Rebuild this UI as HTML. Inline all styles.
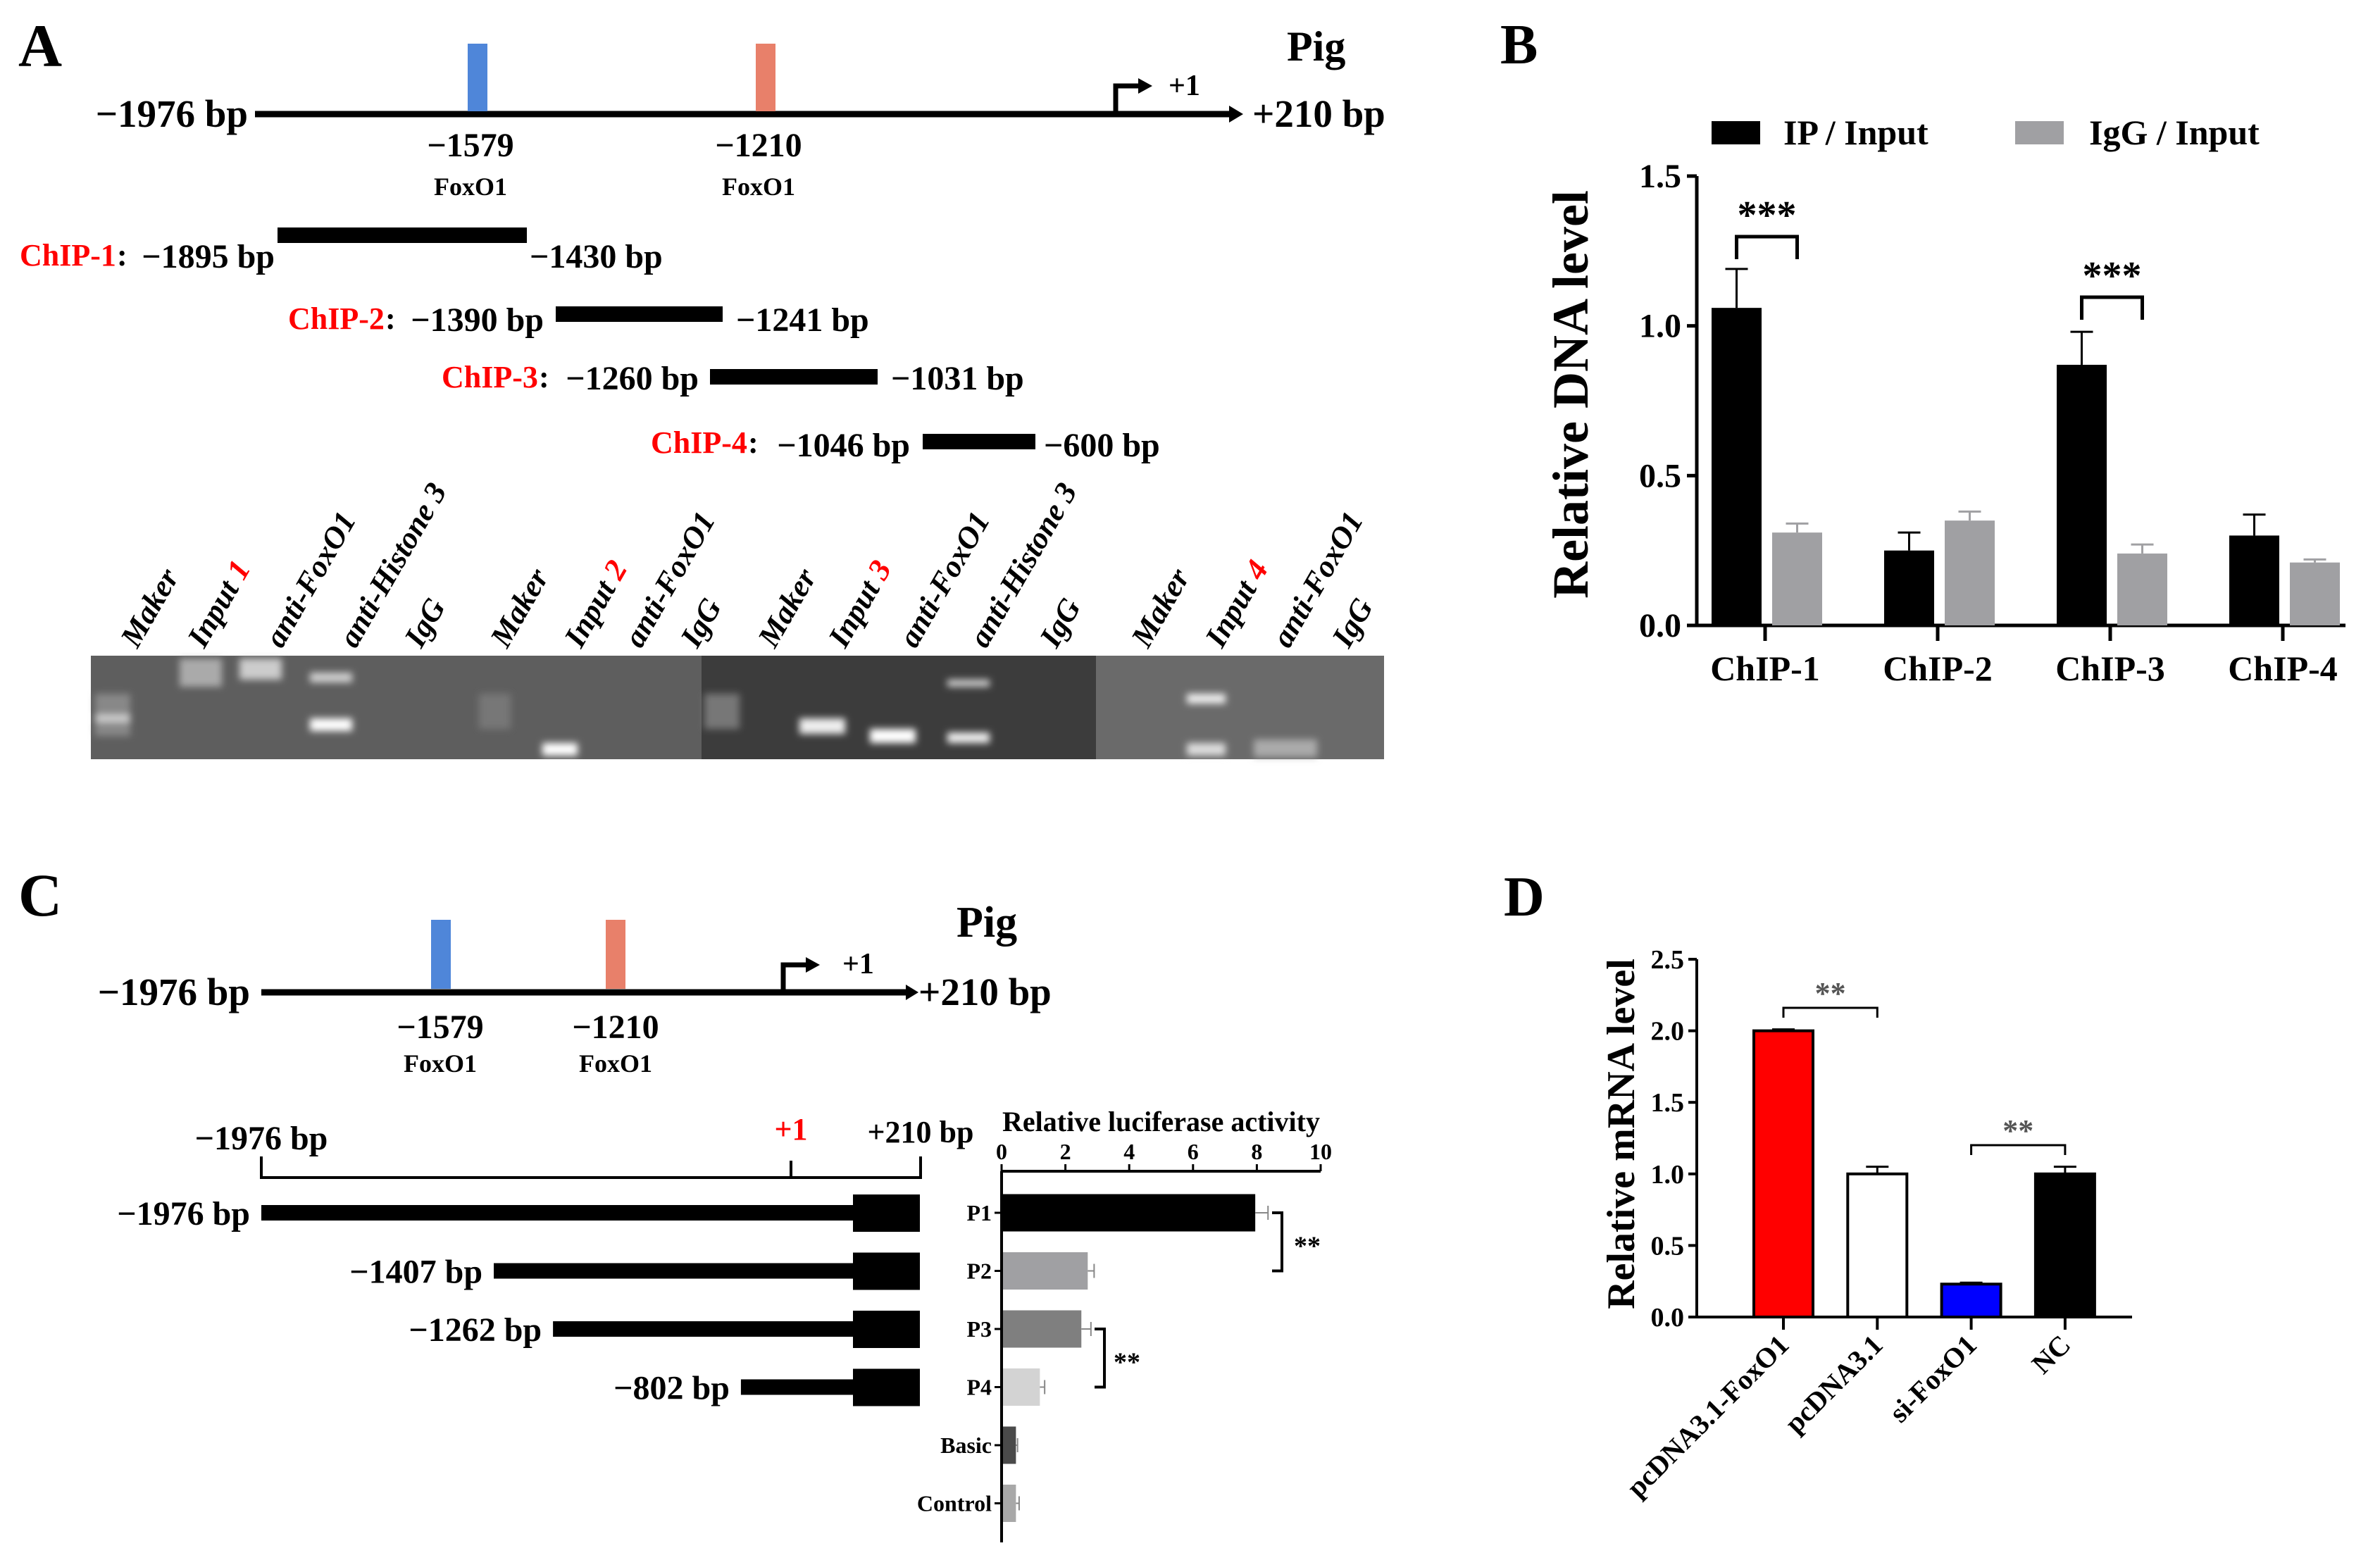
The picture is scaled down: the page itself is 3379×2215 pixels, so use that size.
<!DOCTYPE html>
<html><head><meta charset="utf-8"><style>
html,body{margin:0;padding:0;background:#fff}
svg{display:block}
text{font-family:"Liberation Serif",serif;font-weight:bold;fill:#000}
</style></head><body>
<svg id="fig" width="3379" height="2215" viewBox="0 0 3379 2215" xmlns="http://www.w3.org/2000/svg">
<defs>
<filter id="blur" x="-50%" y="-50%" width="200%" height="200%"><feGaussianBlur stdDeviation="5"/></filter>
</defs>

<!-- Panel A -->
<g>
<text x="26" y="94" font-size="86">A</text>
<text x="1827" y="86" font-size="60">Pig</text>
<line x1="362" y1="162" x2="1750" y2="162" stroke="#000" stroke-width="9"/>
<path d="M1745,150 L1765,162 L1745,174 z" fill="#000"/>
<text x="352" y="180" font-size="55" text-anchor="end">−1976 bp</text>
<text x="1778" y="180" font-size="55">+210 bp</text>
<rect x="664" y="62" width="28" height="96" fill="#4f86d9"/>
<rect x="1073" y="62" width="28" height="96" fill="#e8806a"/>
<path d="M1584,160 L1584,122 L1620,122" stroke="#000" stroke-width="7" fill="none"/>
<path d="M1616,111 L1636,122 L1616,133 z" fill="#000"/>
<text x="1659" y="135" font-size="42" font-weight="normal">+1</text>
<text x="668" y="222" font-size="48" text-anchor="middle">−1579</text>
<text x="668" y="277" font-size="36" text-anchor="middle">FoxO1</text>
<text x="1077" y="222" font-size="48" text-anchor="middle">−1210</text>
<text x="1077" y="277" font-size="36" text-anchor="middle">FoxO1</text>

<g>
<text x="28" y="377" font-size="44" style="fill:#f00">ChIP-1</text>
<text x="166" y="377" font-size="44">:</text>
<text x="390" y="380" font-size="48" text-anchor="end">−1895 bp</text>
<rect x="394" y="323" width="354" height="22" fill="#000"/>
<text x="752" y="380" font-size="48">−1430 bp</text>
</g>
<g>
<text x="409" y="467" font-size="44" style="fill:#f00">ChIP-2</text>
<text x="547" y="467" font-size="44">:</text>
<text x="772" y="470" font-size="48" text-anchor="end">−1390 bp</text>
<rect x="789" y="435" width="237" height="22" fill="#000"/>
<text x="1045" y="470" font-size="48">−1241 bp</text>
</g>
<g>
<text x="627" y="550" font-size="44" style="fill:#f00">ChIP-3</text>
<text x="765" y="550" font-size="44">:</text>
<text x="992" y="553" font-size="48" text-anchor="end">−1260 bp</text>
<rect x="1008" y="524" width="238" height="22" fill="#000"/>
<text x="1265" y="553" font-size="48">−1031 bp</text>
</g>
<g>
<text x="924" y="643" font-size="44" style="fill:#f00">ChIP-4</text>
<text x="1062" y="643" font-size="44">:</text>
<text x="1292" y="648" font-size="48" text-anchor="end">−1046 bp</text>
<rect x="1310" y="616" width="160" height="22" fill="#000"/>
<text x="1482" y="648" font-size="48">−600 bp</text>
</g>

<!-- gel -->
<g>
<rect x="129" y="931" width="867" height="147" fill="#5e5e5e"/>
<rect x="996" y="931" width="560" height="147" fill="#3c3c3c"/>
<rect x="1556" y="931" width="409" height="147" fill="#6a6a6a"/>
<g filter="url(#blur)" fill="#d0d0d0">
<rect x="135" y="985" width="50" height="60" fill="#888"/>
<rect x="135" y="1015" width="50" height="10"/>
<rect x="255" y="935" width="60" height="40" fill="#aaa"/>
<rect x="340" y="935" width="60" height="30" fill="#ccc"/>
<rect x="440" y="955" width="60" height="14"/>
<rect x="440" y="1020" width="60" height="18" fill="#fff"/>
<rect x="680" y="985" width="45" height="50" fill="#777"/>
<rect x="770" y="1055" width="50" height="18" fill="#fff"/>
<rect x="1000" y="985" width="50" height="50" fill="#777"/>
<rect x="1135" y="1020" width="65" height="22" fill="#eee"/>
<rect x="1235" y="1035" width="65" height="20" fill="#fff"/>
<rect x="1345" y="965" width="60" height="10"/>
<rect x="1345" y="1040" width="60" height="15" fill="#eee"/>
<rect x="1685" y="985" width="55" height="14" fill="#eee"/>
<rect x="1685" y="1055" width="55" height="18" fill="#ddd"/>
<rect x="1780" y="1050" width="90" height="25" fill="#aaa"/>
</g>
</g>
<g font-size="44">
<text transform="translate(195,922) rotate(-60)" font-style="italic">Maker</text>
<text transform="translate(290,922) rotate(-60)" font-style="italic">Input <tspan style="fill:#f00">1</tspan></text>
<text transform="translate(400,922) rotate(-60)" font-style="italic">anti-FoxO1</text>
<text transform="translate(505,922) rotate(-60)" font-style="italic">anti-Histone 3</text>
<text transform="translate(598,922) rotate(-60)" font-style="italic">IgG</text>
<text transform="translate(720,922) rotate(-60)" font-style="italic">Maker</text>
<text transform="translate(825,922) rotate(-60)" font-style="italic">Input <tspan style="fill:#f00">2</tspan></text>
<text transform="translate(910,922) rotate(-60)" font-style="italic">anti-FoxO1</text>
<text transform="translate(990,922) rotate(-60)" font-style="italic">IgG</text>
<text transform="translate(1100,922) rotate(-60)" font-style="italic">Maker</text>
<text transform="translate(1200,922) rotate(-60)" font-style="italic">Input <tspan style="fill:#f00">3</tspan></text>
<text transform="translate(1300,922) rotate(-60)" font-style="italic">anti-FoxO1</text>
<text transform="translate(1400,922) rotate(-60)" font-style="italic">anti-Histone 3</text>
<text transform="translate(1500,922) rotate(-60)" font-style="italic">IgG</text>
<text transform="translate(1630,922) rotate(-60)" font-style="italic">Maker</text>
<text transform="translate(1735,922) rotate(-60)" font-style="italic">Input <tspan style="fill:#f00">4</tspan></text>
<text transform="translate(1830,922) rotate(-60)" font-style="italic">anti-FoxO1</text>
<text transform="translate(1915,922) rotate(-60)" font-style="italic">IgG</text>
</g>
</g>

<!-- Panel C -->
<g>
<text x="26" y="1300" font-size="86" font-weight="normal">C</text>
<text x="1358" y="1330" font-size="62">Pig</text>
<line x1="371" y1="1409" x2="1290" y2="1409" stroke="#000" stroke-width="9"/>
<path d="M1286,1398 L1304,1409 L1286,1420 z" fill="#000"/>
<text x="355" y="1427" font-size="55" text-anchor="end">−1976 bp</text>
<text x="1304" y="1427" font-size="55">+210 bp</text>
<rect x="612" y="1306" width="28" height="98" fill="#4f86d9"/>
<rect x="860" y="1306" width="28" height="98" fill="#e8806a"/>
<path d="M1112,1407 L1112,1370 L1148,1370" stroke="#000" stroke-width="7" fill="none"/>
<path d="M1144,1359 L1164,1370 L1144,1381 z" fill="#000"/>
<text x="1196" y="1382" font-size="42" font-weight="normal">+1</text>
<text x="625" y="1474" font-size="48" text-anchor="middle">−1579</text>
<text x="625" y="1522" font-size="36" text-anchor="middle">FoxO1</text>
<text x="874" y="1474" font-size="48" text-anchor="middle">−1210</text>
<text x="874" y="1522" font-size="36" text-anchor="middle">FoxO1</text>

<g>
<path d="M371,1642 L371,1672 L1307,1672 L1307,1642 M1123,1672 L1123,1648" stroke="#000" stroke-width="4" fill="none"/>
<text x="371" y="1632" font-size="48" text-anchor="middle">−1976 bp</text>
<text x="1123" y="1618" font-size="44" text-anchor="middle" font-weight="normal" style="fill:#f00">+1</text>
<text x="1307" y="1622" font-size="44" text-anchor="middle">+210 bp</text>
</g>
<g id="constructs"></g>
<g id="lucChart"></g>
</g>

<g id="chartB">
<text x="2130" y="90" font-size="80">B</text>
</g>
<g id="chartD">
<text x="2135" y="1300" font-size="80">D</text>
</g>
</svg>
<script>
const NS='http://www.w3.org/2000/svg';
function mk(p,tag,attrs,txt){const e=document.createElementNS(NS,tag);for(const k in attrs)e.setAttribute(k,attrs[k]);if(txt!==undefined)e.textContent=txt;p.appendChild(e);return e;}

/* ---------- Panel B data ---------- */
const bCategories=['ChIP-1','ChIP-2','ChIP-3','ChIP-4'];
const bIP=[1.06,0.25,0.87,0.30];
const bIPErr=[0.13,0.06,0.11,0.07];
const bIgG=[0.31,0.35,0.24,0.21];
const bIgGErr=[0.03,0.03,0.03,0.01];
const bTicks=[0,0.5,1.0,1.5];
const bTickLabels=['0.0','0.5','1.0','1.5'];

/* ---------- Panel D data ---------- */
const dCategories=['pcDNA3.1-FoxO1','pcDNA3.1','si-FoxO1','NC'];
const dValues=[2.0,1.0,0.23,1.0];
const dErr=[0.01,0.05,0.01,0.05];
const dColors=['#ff0000','#ffffff','#0000ff','#000000'];
const dTicks=[0,0.5,1.0,1.5,2.0,2.5];
const dTickLabels=['0.0','0.5','1.0','1.5','2.0','2.5'];

/* ---------- Panel C data ---------- */
const lucCategories=['P1','P2','P3','P4','Basic','Control'];
const lucValues=[7.95,2.7,2.5,1.2,0.45,0.45];
const lucErr=[0.4,0.2,0.3,0.15,0.05,0.1];
const lucColors=['#000000','#a0a0a3','#7f7f7f','#d3d3d3','#4a4a4a','#a8a8a8'];
const lucTicks=[0,2,4,6,8,10];
const constructStarts=[-1976,-1407,-1262,-802];
const constructLabels=['−1976 bp','−1407 bp','−1262 bp','−802 bp'];

/* Panel B */
(function(){
const g=document.getElementById('chartB');
const x0=2409,xEnd=3330,yBase=888,yTop=250;
const y=v=>yBase-(v/1.5)*(yBase-yTop);
const gc=i=>2506+i*245, bw=71;
let e=mk(g,'line',{x1:x0,y1:yTop,x2:x0,y2:yBase+2,stroke:'#000','stroke-width':5});

e=mk(g,'line',{x1:x0-14,y1:yBase,x2:xEnd,y2:yBase,stroke:'#000','stroke-width':5});

bTicks.forEach((t,i)=>{
 e=mk(g,'line',{x1:x0-14,y1:y(t),x2:x0,y2:y(t),stroke:'#000','stroke-width':5});
 
 e=mk(g,'text',{x:x0-22,y:y(t)+16,'font-size':48,'text-anchor':'end'},bTickLabels[i]);
 
});
bCategories.forEach((c,i)=>{
 const cx=gc(i);
 e=mk(g,'line',{x1:cx,y1:yBase,x2:cx,y2:yBase+22,stroke:'#000','stroke-width':5});
 
 e=mk(g,'text',{x:cx,y:yBase+78,'font-size':50,'text-anchor':'middle'},c);
 
 const xa=cx-bw-5, xb=cx+10;
 [[xa,bIP[i],bIPErr[i],'#000'],[xb,bIgG[i],bIgGErr[i],'#a0a0a3']].forEach((s,k)=>{
  e=mk(g,'line',{x1:s[0]+bw/2,y1:y(s[1]),x2:s[0]+bw/2,y2:y(s[1]+s[2]),stroke:s[3],'stroke-width':3});
  
  e=mk(g,'line',{x1:s[0]+bw/2-16,y1:y(s[1]+s[2]),x2:s[0]+bw/2+16,y2:y(s[1]+s[2]),stroke:s[3],'stroke-width':3});
  
  e=mk(g,'rect',{x:s[0],y:y(s[1]),width:bw,height:yBase-y(s[1]),fill:s[3]});
  
 });
});
[[0,336],[2,422]].forEach(s=>{
 const xa=gc(s[0])-bw/2-5, xb=gc(s[0])+10+bw/2;
 e=mk(g,'path',{d:`M${xa},${s[1]+32} L${xa},${s[1]} L${xb},${s[1]} L${xb},${s[1]+32}`,stroke:'#000','stroke-width':5,fill:'none'});
 
 e=mk(g,'text',{x:(xa+xb)/2,y:s[1]-12,'font-size':56,'text-anchor':'middle'},'***');
 
});
e=mk(g,'rect',{x:2430,y:172,width:69,height:33,fill:'#000'});

e=mk(g,'text',{x:2532,y:205,'font-size':50},'IP / Input');

e=mk(g,'rect',{x:2861,y:172,width:69,height:33,fill:'#a0a0a3'});

e=mk(g,'text',{x:2966,y:205,'font-size':50},'IgG / Input');

e=mk(g,'text',{transform:'translate(2254,560) rotate(-90)','font-size':72,'text-anchor':'middle'},'Relative DNA level');

})();

/* Panel D */
(function(){
const g=document.getElementById('chartD');
const x0=2409,xEnd=3027,yBase=1870,yTop=1362;
const y=v=>yBase-(v/2.5)*(yBase-yTop);
const cxs=i=>2532+i*133.3, bw=84;
let e=mk(g,'line',{x1:x0,y1:yTop,x2:x0,y2:yBase,stroke:'#000','stroke-width':4});

e=mk(g,'line',{x1:x0-12,y1:yBase,x2:xEnd,y2:yBase,stroke:'#000','stroke-width':4});

dTicks.forEach((t,i)=>{
 e=mk(g,'line',{x1:x0-12,y1:y(t),x2:x0,y2:y(t),stroke:'#000','stroke-width':4});
 
 e=mk(g,'text',{x:x0-18,y:y(t)+13,'font-size':38,'text-anchor':'end'},dTickLabels[i]);
 
});
dCategories.forEach((c,i)=>{
 const cx=cxs(i);
 e=mk(g,'line',{x1:cx,y1:yBase,x2:cx,y2:yBase+18,stroke:'#000','stroke-width':4});
 
 e=mk(g,'text',{transform:`translate(${cx+10},${yBase+42}) rotate(-45)`,'font-size':40,'text-anchor':'end'},c);
 
 e=mk(g,'line',{x1:cx,y1:y(dValues[i]),x2:cx,y2:y(dValues[i]+dErr[i]),stroke:'#000','stroke-width':3});
 
 e=mk(g,'line',{x1:cx-16,y1:y(dValues[i]+dErr[i]),x2:cx+16,y2:y(dValues[i]+dErr[i]),stroke:'#000','stroke-width':3});
 
 e=mk(g,'rect',{x:cx-bw/2,y:y(dValues[i]),width:bw,height:yBase-y(dValues[i]),fill:dColors[i],stroke:'#000','stroke-width':4});
 
});
[[0,1,1431],[2,3,1626]].forEach(s=>{
 const xa=cxs(s[0]),xb=cxs(s[1]);
 e=mk(g,'path',{d:`M${xa},${s[2]+14} L${xa},${s[2]} L${xb},${s[2]} L${xb},${s[2]+14}`,stroke:'#000','stroke-width':3,fill:'none'});
 
 e=mk(g,'text',{x:(xa+xb)/2,y:s[2]-6,'font-size':44,'font-weight':'normal','text-anchor':'middle',style:'fill:#555'},'**');
 
});
e=mk(g,'text',{transform:'translate(2320,1610) rotate(-90)','font-size':56,'text-anchor':'middle'},'Relative mRNA level');

})();

/* Panel C luciferase */
(function(){
const g=document.getElementById('lucChart');
const x0=1422,x10=1875,yAxis=1663,yBottom=2190;
const x=v=>x0+(v/10)*(x10-x0);
const rowC=i=>1722+i*82.5, bh=53;
let e=mk(g,'line',{x1:x0,y1:yAxis,x2:x10,y2:yAxis,stroke:'#000','stroke-width':4});

e=mk(g,'line',{x1:x0,y1:yAxis,x2:x0,y2:yBottom,stroke:'#000','stroke-width':4});

lucTicks.forEach(t=>{
 e=mk(g,'line',{x1:x(t),y1:yAxis,x2:x(t),y2:yAxis-10,stroke:'#000','stroke-width':3});
 
 e=mk(g,'text',{x:x(t),y:yAxis-17,'font-size':32,'text-anchor':'middle'},String(t));
 
});
e=mk(g,'text',{x:(x0+x10)/2,y:1606,'font-size':40,'text-anchor':'middle'},'Relative luciferase activity');

lucCategories.forEach((c,i)=>{
 const cy=rowC(i);
 e=mk(g,'text',{x:x0-14,y:cy+11,'font-size':32,'text-anchor':'end'},c);
 
 e=mk(g,'line',{x1:x0-10,y1:cy,x2:x0,y2:cy,stroke:'#000','stroke-width':3});
 
 e=mk(g,'rect',{x:x0+2,y:cy-bh/2,width:x(lucValues[i])-x0-2,height:bh,fill:lucColors[i]});
 
 e=mk(g,'line',{x1:x(lucValues[i]),y1:cy,x2:x(lucValues[i]+lucErr[i]),y2:cy,stroke:'#888','stroke-width':2});
 
 e=mk(g,'line',{x1:x(lucValues[i]+lucErr[i]),y1:cy-10,x2:x(lucValues[i]+lucErr[i]),y2:cy+10,stroke:'#888','stroke-width':2});
 
});
[[0,1,1820,1856],[2,3,1568,1600]].forEach(s=>{
 const ya=rowC(s[0]),yb=rowC(s[1]);
 e=mk(g,'path',{d:`M${s[2]-14},${ya} L${s[2]},${ya} L${s[2]},${yb} L${s[2]-14},${yb}`,stroke:'#000','stroke-width':4,fill:'none'});
 
 e=mk(g,'text',{x:s[3],y:(ya+yb)/2+18,'font-size':38,'text-anchor':'middle'},'**');
 
});
})();

/* Panel C constructs */
(function(){
const g=document.getElementById('constructs');
const bx=p=>371+(p+1976)*0.58;
constructStarts.forEach((s,i)=>{
 const cy=1722+i*82.5, xs=bx(s);
 let e=mk(g,'rect',{x:xs,y:cy-11,width:1213-xs,height:22,fill:'#000'});
 
 e=mk(g,'rect',{x:1211,y:cy-26,width:95,height:53,fill:'#000'});
 
 e=mk(g,'text',{x:xs-16,y:cy+17,'font-size':48,'text-anchor':'end'},constructLabels[i]);
 
});
})();
</script>
</body></html>
